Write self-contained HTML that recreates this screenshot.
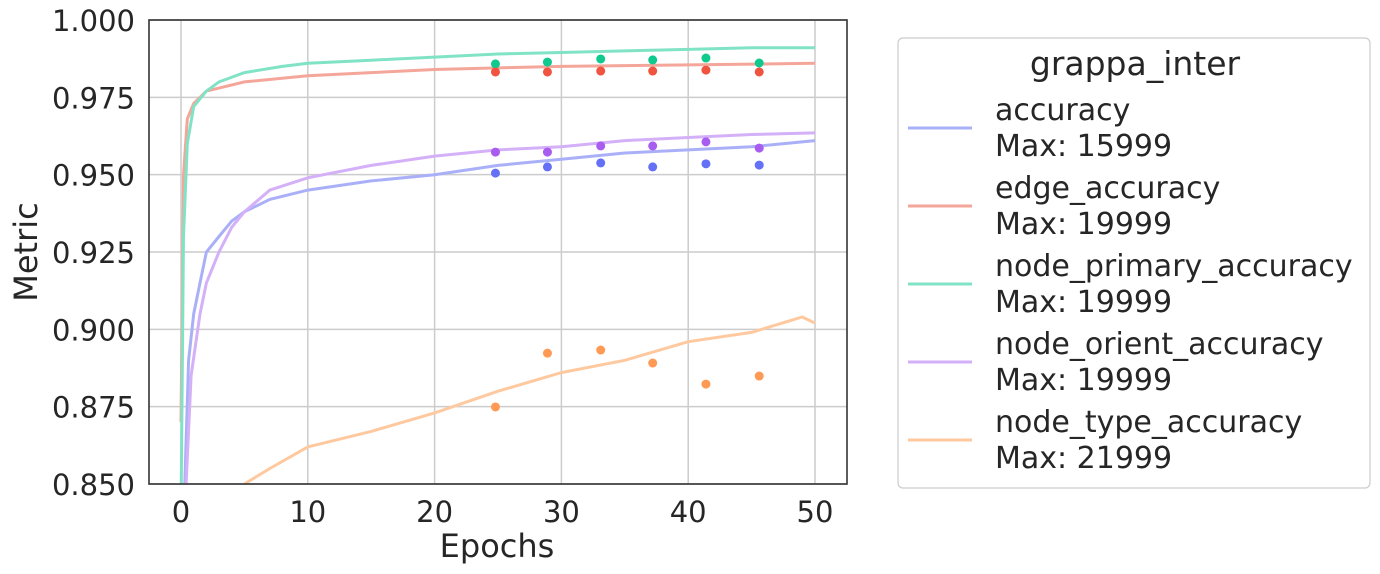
<!DOCTYPE html>
<html><head><meta charset="utf-8"><style>
body{margin:0;background:#fff;}
svg{display:block;font-family:"DejaVu Sans","Liberation Sans",sans-serif;}
</style></head><body>
<svg id="chart" width="1380" height="574">
<g id="grid"></g>
<g id="series"></g>
<g id="dots"></g>
<rect x="149" y="20" width="698" height="464" fill="none" stroke="#333" stroke-width="1.6"/>
<g id="ticks"></g>
<text x="497" y="557" font-size="32" fill="#262626" text-anchor="middle">Epochs</text>
<text transform="translate(37,252) rotate(-90)" font-size="32" fill="#262626" text-anchor="middle">Metric</text>
<g id="legend">
<rect x="898" y="38" width="472" height="450" rx="5" fill="#fff" stroke="#ccc" stroke-width="1.2"/>
<text x="1135" y="75" font-size="33" fill="#262626" text-anchor="middle">grappa_inter</text>
</g>
</svg>
<script>
const epochsGreen=[0,0.2,0.5,1,2,3,5,8,10,15,20,25,30,35,40,45,50];
const valsGreen=[0.84,0.93,0.96,0.972,0.977,0.980,0.983,0.985,0.986,0.987,0.988,0.989,0.9895,0.990,0.9905,0.991,0.991];
const epochsRed=[0,0.2,0.5,1,2,3,5,10,15,20,25,30,40,50];
const valsRed=[0.870,0.95,0.968,0.973,0.977,0.978,0.980,0.982,0.983,0.984,0.9845,0.985,0.9855,0.986];
const epochsBlue=[0.3,0.6,1,1.5,2,3,4,5,7,10,15,20,25,30,35,40,45,50];
const valsBlue=[0.85,0.89,0.905,0.915,0.925,0.930,0.935,0.938,0.942,0.945,0.948,0.950,0.953,0.955,0.957,0.958,0.959,0.961];
const epochsPurple=[0.4,0.8,1.5,2,3,4,5,7,10,15,20,25,30,35,40,45,50];
const valsPurple=[0.85,0.885,0.905,0.915,0.925,0.933,0.938,0.945,0.949,0.953,0.956,0.958,0.959,0.961,0.962,0.963,0.9635];
const epochsOrange=[5,7,10,15,20,25,30,35,40,45,49,50];
const valsOrange=[0.850,0.855,0.862,0.867,0.873,0.880,0.886,0.890,0.896,0.899,0.904,0.902];
const dotEpochs=[24.8,28.9,33.1,37.2,41.4,45.6];
const dotsGreen=[0.9858,0.9864,0.9874,0.9871,0.9877,0.9861];
const dotsRed=[0.9832,0.9832,0.9835,0.9835,0.9838,0.9832];
const dotsPurple=[0.9573,0.9573,0.9593,0.9593,0.9606,0.9586];
const dotsBlue=[0.9505,0.9525,0.9538,0.9525,0.9535,0.9531];
const dotsOrange=[0.8749,0.8923,0.8933,0.8891,0.8823,0.8849];
const xTicks=[0,10,20,30,40,50];
const yTicks=[0.850,0.875,0.900,0.925,0.950,0.975,1.000];
const legendLabels=["accuracy","edge_accuracy","node_primary_accuracy","node_orient_accuracy","node_type_accuracy"];
const legendMax=["15999","19999","19999","19999","21999"];

const NS="http://www.w3.org/2000/svg";
const X=e=>181+e*12.68;
const Y=v=>20+(1-v)/0.15*464;
function mk(tag,attrs,parent){const el=document.createElementNS(NS,tag);for(const k in attrs)el.setAttribute(k,attrs[k]);parent.appendChild(el);return el;}
const grid=document.getElementById('grid'),ticks=document.getElementById('ticks');
xTicks.forEach(t=>{
  const l=mk('line',{x1:X(t),x2:X(t),y1:20,y2:484,stroke:'#cccccc','stroke-width':1.5},grid);
  
  
  const tx=mk('text',{x:X(t),y:522,'font-size':29,fill:'#262626','text-anchor':'middle'},ticks);
  tx.textContent=t;
  
  
});
yTicks.forEach(t=>{
  const l=mk('line',{x1:149,x2:847,y1:Y(t),y2:Y(t),stroke:'#cccccc','stroke-width':1.5},grid);
  
  
  const tx=mk('text',{x:135,y:Y(t)+11,'font-size':29,fill:'#262626','text-anchor':'end'},ticks);
  tx.textContent=t.toFixed(3);
  
  
});
const clip=mk('clipPath',{id:'pc'},document.getElementById('chart'));
mk('rect',{x:149,y:20,width:698,height:464},clip);
const series=document.getElementById('series');
series.setAttribute('clip-path','url(#pc)');
const lines=[
 [epochsOrange,valsOrange,'#ffc9a0','line-node-type-accuracy'],
 [epochsBlue,valsBlue,'#aab0f8','line-accuracy'],
 [epochsPurple,valsPurple,'#d4b0f8','line-node-orient-accuracy'],
 [epochsRed,valsRed,'#f5a69a','line-edge-accuracy'],
 [epochsGreen,valsGreen,'#80e3c6','line-node-primary-accuracy']];
lines.forEach(s=>{
  let d='';s[0].forEach((e,i)=>{d+=(i?'L':'M')+X(e).toFixed(1)+' '+Y(s[1][i]).toFixed(1);});
  if(s[0][0]>0&&s[0][0]<1)d='M'+X(s[0][0]-0.05)+' 490L'+d.slice(1);
  const p=mk('path',{d:d,fill:'none',stroke:s[2],'stroke-width':3},series);
  
  
});
const dotsG=document.getElementById('dots');
[[dotsGreen,'#10c98f','dot-node-primary'],[dotsRed,'#f0533f','dot-edge'],[dotsPurple,'#a85cf0','dot-node-orient'],[dotsBlue,'#6470f5','dot-accuracy'],[dotsOrange,'#ff9a55','dot-node-type']].forEach(s=>{
  s[0].forEach((v,i)=>{
    const c=mk('circle',{cx:X(dotEpochs[i]),cy:Y(v),r:4.5,fill:s[1]},dotsG);
    
    
  });
});
const leg=document.getElementById('legend');
const legColors=['#aab0f8','#f5a69a','#80e3c6','#d4b0f8','#ffc9a0'];
legendLabels.forEach((lab,i)=>{
  const y0=128+i*78;
  const l=mk('line',{x1:908,x2:972,y1:y0,y2:y0,stroke:legColors[i],'stroke-width':3},leg);
  
  
  const t1=mk('text',{x:995,y:y0-8,'font-size':30,fill:'#262626'},leg);
  t1.textContent=lab;
  
  
  const t2=mk('text',{x:995,y:y0+28,'font-size':30,fill:'#262626'},leg);
  t2.textContent='Max: '+legendMax[i];
  
  
});
</script>
</body></html>
